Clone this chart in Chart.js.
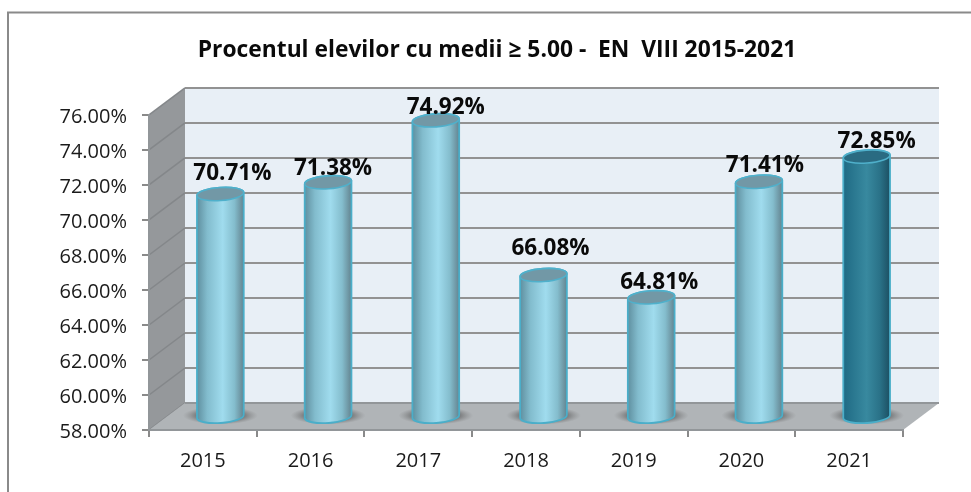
<!DOCTYPE html>
<html>
<head>
<meta charset="utf-8">
<style>html,body{margin:0;padding:0;background:#fff}canvas{display:block}</style>
<script src="https://cdn.jsdelivr.net/npm/chart.js@4"></script>
</head>
<body>
<canvas id="c" width="971" height="492"></canvas>
<script>
const titleText = 'Procentul elevilor cu medii \u2265 5.00 -  EN  VIII 2015-2021';
const years = ['2015','2016','2017','2018','2019','2020','2021'];
const percentages = [70.71,71.38,74.92,66.08,64.81,71.41,72.85];
const axisMin = 58, axisMax = 76, axisStep = 2;
const highlightedYear = '2021';
const labelNudgeX = [12,5,10,7,8,6,10];
const labelNudgeY = [-20,-14,-13,-26,-15,-16,-15];

const FONT = '"Open Sans", sans-serif';
const DEPTH_X = 36, DEPTH_Y = -27;
const TILT = -0.07;

function fmt(v){ return v.toFixed(2) + '%'; }

const scene3d = {
  id: 'scene3d',
  beforeDraw(chart) {
    const c = chart.ctx, a = chart.chartArea, y = chart.scales.y;
    const L = a.left, R = a.right, T = a.top, B = a.bottom;
    c.save();
    c.fillStyle = '#fff';
    c.fillRect(0, 0, chart.width, chart.height);
    c.strokeStyle = '#8a8a8a'; c.lineWidth = 2;
    c.beginPath(); c.moveTo(8, 492); c.lineTo(8, 12.5); c.lineTo(971, 12.5); c.stroke();
    c.fillStyle = '#e8eff6';
    c.fillRect(L + DEPTH_X, T + DEPTH_Y, R - L, B - T);
    c.fillStyle = '#95989b';
    c.beginPath(); c.moveTo(L, T); c.lineTo(L + DEPTH_X, T + DEPTH_Y);
    c.lineTo(L + DEPTH_X, B + DEPTH_Y); c.lineTo(L, B); c.closePath(); c.fill();
    y.ticks.forEach(t => {
      const p = y.getPixelForValue(t.value);
      if (t.value !== axisMin) {
        c.strokeStyle = '#929292'; c.lineWidth = 2;
        c.beginPath(); c.moveTo(L + DEPTH_X, p + DEPTH_Y); c.lineTo(R + DEPTH_X, p + DEPTH_Y); c.stroke();
      }
      c.strokeStyle = '#84878a'; c.lineWidth = 1.5;
      c.beginPath(); c.moveTo(L, p); c.lineTo(L + DEPTH_X, p + DEPTH_Y); c.stroke();
    });
    c.fillStyle = '#b0b4b7';
    c.beginPath(); c.moveTo(L, B); c.lineTo(L + DEPTH_X, B + DEPTH_Y);
    c.lineTo(R + DEPTH_X, B + DEPTH_Y); c.lineTo(R, B); c.closePath(); c.fill();
    c.strokeStyle = '#929699'; c.lineWidth = 2;
    c.beginPath(); c.moveTo(L + DEPTH_X, B + DEPTH_Y); c.lineTo(R + DEPTH_X, B + DEPTH_Y); c.stroke();
    c.restore();
  },
  afterDatasetsDraw(chart) {
    const c = chart.ctx;
    const meta = chart.getDatasetMeta(0);
    const floorPx = chart.scales.y.getPixelForValue(axisMin);
    meta.data.forEach((bar, i) => {
      const dark = years[i] === highlightedYear;
      const cx = bar.x + DEPTH_X / 2 - 0.5;
      const top = bar.y + DEPTH_Y / 2;
      const bot = floorPx + DEPTH_Y / 2;
      const rx = bar.width / 2, ry = 6.5;
      c.save();
      c.save();
      c.translate(cx, bot - 1); c.scale(1, 0.24);
      const sh = c.createRadialGradient(0, 0, rx * 0.7, 0, 0, rx * 1.6);
      sh.addColorStop(0, 'rgba(55,55,55,.8)');
      sh.addColorStop(.5, 'rgba(80,80,80,.4)');
      sh.addColorStop(1, 'rgba(110,110,110,0)');
      c.fillStyle = sh;
      c.beginPath(); c.arc(0, 0, rx * 1.6, 0, Math.PI * 2); c.fill();
      c.restore();
      const g = c.createLinearGradient(cx - rx, 0, cx + rx, 0);
      if (dark) {
        g.addColorStop(0, '#1f6a84'); g.addColorStop(.5, '#38899f');
        g.addColorStop(.78, '#2a7288'); g.addColorStop(1, '#1c4f62');
      } else {
        g.addColorStop(0, '#5f8f9f'); g.addColorStop(.22, '#82bccd');
        g.addColorStop(.55, '#a0dcee'); g.addColorStop(.8, '#84bdcd'); g.addColorStop(1, '#63838f');
      }
      c.beginPath();
      c.ellipse(cx, bot, rx, ry, TILT, Math.PI, 0, true);
      c.ellipse(cx, top, rx, ry, TILT, 0, Math.PI, true);
      c.closePath();
      c.fillStyle = g; c.fill();
      c.strokeStyle = '#4aaec9'; c.lineWidth = 1.8; c.stroke();
      c.beginPath(); c.ellipse(cx, top, rx, ry, TILT, 0, Math.PI * 2);
      c.fillStyle = dark ? '#2a6b82' : '#7298a6'; c.fill();
      c.strokeStyle = '#4fb0cb'; c.lineWidth = 1.6; c.stroke();
      c.fillStyle = '#0a0a0a';
      c.font = 'bold 22.5px ' + FONT;
      c.textAlign = 'center'; c.textBaseline = 'middle';
      c.fillText(fmt(percentages[i]), cx + labelNudgeX[i], top + labelNudgeY[i]);
      c.restore();
    });
  }
};

new Chart(document.getElementById('c'), {
  type: 'bar',
  data: {
    labels: years,
    datasets: [{ label: 'Procent', data: percentages, backgroundColor: 'rgba(0,0,0,0)', borderWidth: 0, barPercentage: 0.435, categoryPercentage: 1 }]
  },
  options: {
    responsive: false,
    animation: false,
    events: [],
    layout: { padding: { left: 91, right: 68, top: 0, bottom: 0 } },
    plugins: {
      legend: { display: false },
      tooltip: { enabled: false },
      title: {
        display: true, text: titleText, color: '#0a0a0a',
        font: { family: FONT, size: 22.8, weight: 'bold', lineHeight: 1.2 },
        padding: { top: 37, bottom: 50.6 }
      }
    },
    scales: {
      x: {
        afterFit(s) { s.height = 62; },
        grid: { drawOnChartArea: false, color: '#8a8a8a', lineWidth: 2, tickLength: 7 },
        border: { color: '#929699', width: 2 },
        ticks: { color: '#1a1a1a', font: { family: FONT, size: 20 }, padding: 12, maxRotation: 0 }
      },
      y: {
        min: axisMin, max: axisMax,
        beforeUpdate(s) {
          s._computeLabelArea = () => undefined;
          if (!s._nudged) {
            s._nudged = true;
            const orig = s._computeLabelItems;
            s._computeLabelItems = function (area) {
              const items = orig.call(this, area);
              items.forEach(it => { it.options.translation = [it.options.translation[0], it.options.translation[1] + 2]; });
              return items;
            };
          }
        },
        afterFit(s) { s.width = 58; },
        grid: { drawOnChartArea: false, color: '#8a8a8a', lineWidth: 2, tickLength: 7 },
        border: { color: '#929699', width: 2 },
        ticks: { stepSize: axisStep, color: '#1a1a1a', font: { family: FONT, size: 20 }, padding: 15, callback: v => fmt(v) }
      }
    }
  },
  plugins: [scene3d]
});
</script>
</body>
</html>
